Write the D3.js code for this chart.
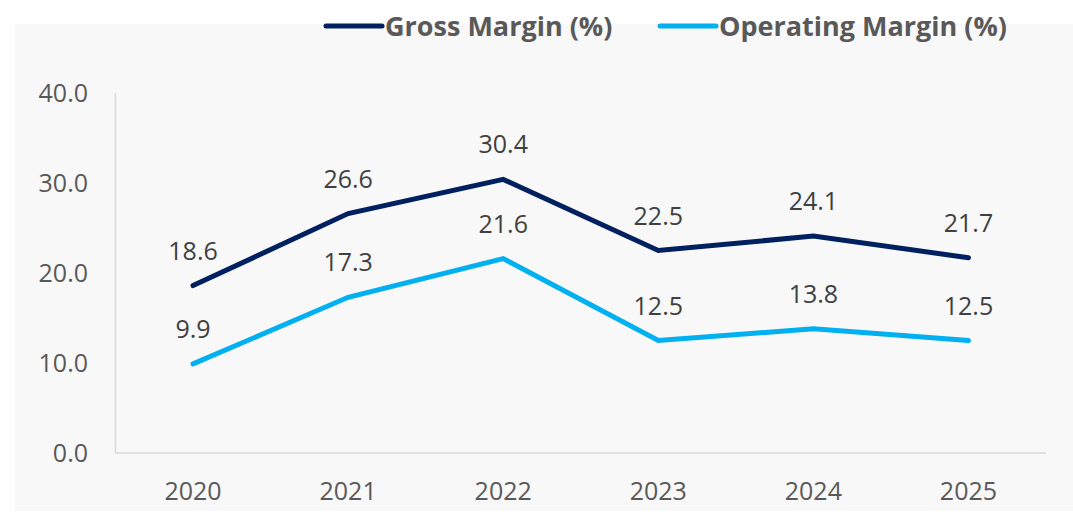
<!DOCTYPE html>
<html><head><meta charset="utf-8">
<script src="https://cdn.jsdelivr.net/npm/d3@7"></script>
<style>body{margin:0;background:#fff;} svg{display:block;}</style>
</head><body>
<svg id="chart" width="1073" height="514"></svg>
<script>
const years = ["2020","2021","2022","2023","2024","2025"];
const grossMargin = [18.6, 26.6, 30.4, 22.5, 24.1, 21.7];
const operatingMargin = [9.9, 17.3, 21.6, 12.5, 13.8, 12.5];
const yTicks = [0, 10, 20, 30, 40];
const seriesNames = ["Gross Margin (%)", "Operating Margin (%)"];
const seriesColors = ["#002060", "#00b0f0"];

const svg = d3.select("#chart");
const FONT = "'Open Sans', 'Liberation Sans', sans-serif";

svg.append("rect").attr("x", 15).attr("y", 24).attr("width", 1058).attr("height", 487).attr("fill", "#f8f8f8");

const x = d3.scaleBand().domain(years).range([115.5, 1046]);
const y = d3.scaleLinear().domain([0, 40]).range([453, 93]);

// axes
svg.append("line").attr("x1", 115.5).attr("x2", 115.5).attr("y1", y(40)).attr("y2", y(0))
  .attr("stroke", "#d9d9d9").attr("stroke-width", 1.5);
svg.append("line").attr("x1", 115.5).attr("x2", 1046).attr("y1", y(0)).attr("y2", y(0))
  .attr("stroke", "#d9d9d9").attr("stroke-width", 1.5);

svg.append("g").selectAll("text").data(yTicks).join("text")
  .attr("x", 88).attr("y", d => y(d)).attr("dy", "0.36em")
  .attr("text-anchor", "end").attr("font-family", FONT).attr("font-size", 25)
  .attr("fill", "#595959").text(d => d3.format(".1f")(d));

svg.append("g").selectAll("text").data(years).join("text")
  .attr("x", d => x(d) + x.bandwidth() / 2).attr("y", 500)
  .attr("text-anchor", "middle").attr("font-family", FONT).attr("font-size", 25)
  .attr("fill", "#595959").text(d => d);

const allSeries = [grossMargin, operatingMargin];
const line = d3.line().x((d, i) => x(years[i]) + x.bandwidth() / 2).y(d => y(d));

allSeries.forEach((vals, s) => {
  svg.append("path").datum(vals).attr("d", line).attr("fill", "none")
    .attr("stroke", seriesColors[s]).attr("stroke-width", 5)
    .attr("stroke-linecap", "round").attr("stroke-linejoin", "miter");
  svg.append("g").selectAll("text").data(vals).join("text")
    .attr("x", (d, i) => x(years[i]) + x.bandwidth() / 2)
    .attr("y", d => y(d) - 26)
    .attr("text-anchor", "middle").attr("font-family", FONT).attr("font-size", 25)
    .attr("fill", "#404040").text(d => d3.format(".1f")(d));
});

// legend
const legendX = [326, 660];
seriesNames.forEach((name, s) => {
  svg.append("line").attr("x1", legendX[s]).attr("x2", legendX[s] + 56)
    .attr("y1", 26).attr("y2", 26).attr("stroke", seriesColors[s])
    .attr("stroke-width", 5).attr("stroke-linecap", "round");
  svg.append("text").attr("x", legendX[s] + 59).attr("y", 36)
    .attr("font-family", FONT).attr("font-size", 27).attr("font-weight", "bold")
    .attr("fill", "#595959").text(name);
});
</script>
</body></html>
